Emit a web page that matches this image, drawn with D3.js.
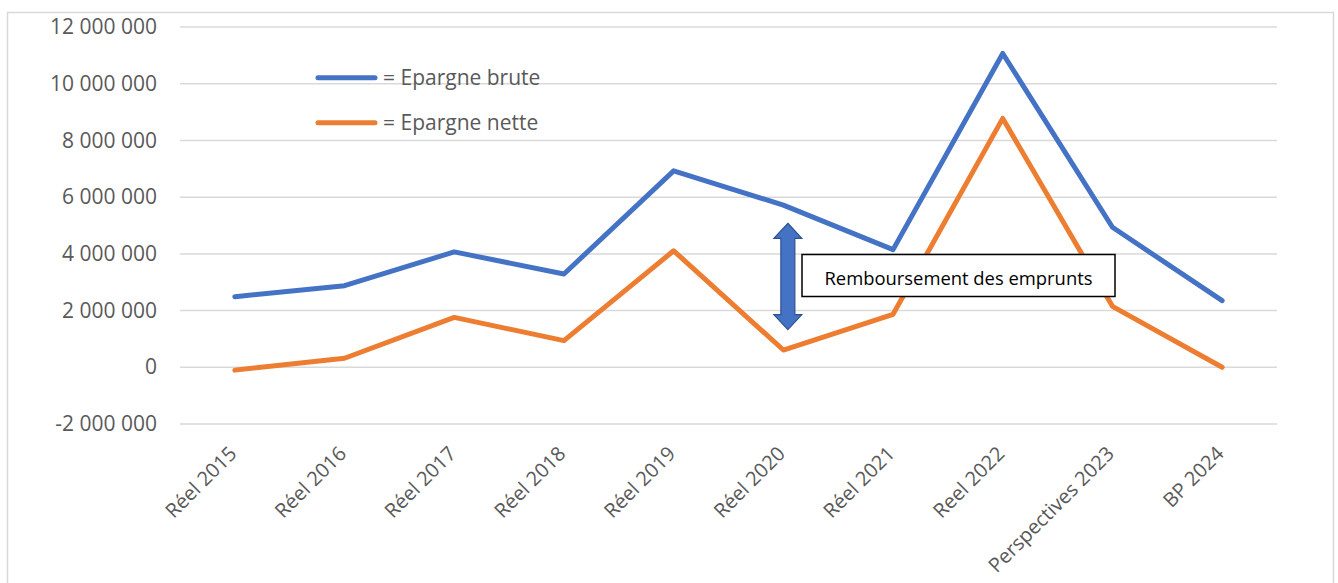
<!DOCTYPE html>
<html>
<head>
<meta charset="utf-8">
<script src="https://cdn.jsdelivr.net/npm/d3@7"></script>
<style>
  html, body { margin: 0; padding: 0; background: #fff; }
  svg { display: block; font-family: "Open Sans", sans-serif; }
</style>
</head>
<body>
<svg id="chart" width="1338" height="583"></svg>
<script>
//Data
var categories = ["Réel 2015", "Réel 2016", "Réel 2017", "Réel 2018", "Réel 2019",
  "Réel 2020", "Réel 2021", "Reel 2022", "Perspectives 2023", "BP 2024"];
var epargneBrute = [2490000, 2880000, 4070000, 3290000, 6930000,
  5720000, 4150000, 11070000, 4940000, 2350000];
var epargneNette = [-100000, 320000, 1760000, 940000, 4110000,
  610000, 1870000, 8780000, 2150000, 0];
var yTicks = [-2000000, 0, 2000000, 4000000, 6000000, 8000000, 10000000, 12000000];
var seriesNames = ["= Epargne brute", "= Epargne nette"];
var annotationText = "Remboursement des emprunts";

var svg = d3.select("#chart"),
  width = +svg.attr("width"),
  height = +svg.attr("height");

var blue = "#4472C4",
  orange = "#ED7D31",
  grey = "#595959";

// chart area border
svg
  .append("rect")
  .attr("x", 7.5)
  .attr("y", 12.5)
  .attr("width", 1326)
  .attr("height", 600)
  .attr("fill", "white")
  .attr("stroke", "#D9D9D9")
  .attr("stroke-width", 1.5);

var x = d3.scalePoint().domain(categories).range([180, 1277]).padding(0.5);
var y = d3.scaleLinear().domain([-2000000, 12000000]).range([424, 27.1]);

// "12 000 000" style, plain hyphen for negatives
var fmt = (d) => d3.format(",")(d).replace(/,/g, " ").replace("\u2212", "-");

// gridlines
svg
  .append("g")
  .selectAll("line")
  .data(yTicks)
  .join("line")
  .attr("x1", 180)
  .attr("x2", 1277)
  .attr("y1", (d) => y(d))
  .attr("y2", (d) => y(d))
  .attr("stroke", "#D9D9D9")
  .attr("stroke-width", 1.5);

// y labels
svg
  .append("g")
  .selectAll("text")
  .data(yTicks)
  .join("text")
  .attr("x", 157)
  .attr("y", (d) => y(d))
  .attr("dy", "0.34em")
  .attr("text-anchor", "end")
  .style("font-size", "21px")
  .style("fill", grey)
  .text(fmt);

// x labels
svg
  .append("g")
  .selectAll("text")
  .data(categories)
  .join("text")
  .attr("transform", (d) => "translate(" + (x(d) + 3) + ",455) rotate(-45)")
  .attr("text-anchor", "end")
  .style("font-size", "20px")
  .style("fill", grey)
  .text((d) => d);

var line = d3
  .line()
  .x((d, i) => x(categories[i]))
  .y((d) => y(d));

[epargneBrute, epargneNette].forEach((s, i) => {
  svg
    .append("path")
    .datum(s)
    .attr("d", line)
    .attr("fill", "none")
    .attr("stroke", i === 0 ? blue : orange)
    .attr("stroke-width", 5)
    .attr("stroke-linejoin", "round")
    .attr("stroke-linecap", "round");
});

// legend
var legend = svg
  .append("g")
  .selectAll("g")
  .data(seriesNames)
  .join("g")
  .attr("transform", (d, i) => "translate(318," + (77.7 + i * 45) + ")");
legend
  .append("line")
  .attr("x1", 0)
  .attr("x2", 57)
  .attr("stroke", (d, i) => (i === 0 ? blue : orange))
  .attr("stroke-width", 5)
  .attr("stroke-linecap", "round");
legend
  .append("text")
  .attr("x", 65)
  .attr("dy", "0.35em")
  .style("font-size", "21px")
  .style("fill", grey)
  .text((d) => d);

// double arrow between the two series
var ax = x(categories[5]) + 4.5,
  aTop = y(5080000),
  aBot = y(1330000),
  head = 15,
  hw = 14,
  sw = 7;
svg
  .append("path")
  .attr(
    "d",
    d3.line()([
      [ax, aTop],
      [ax + hw, aTop + head],
      [ax + sw, aTop + head],
      [ax + sw, aBot - head],
      [ax + hw, aBot - head],
      [ax, aBot],
      [ax - hw, aBot - head],
      [ax - sw, aBot - head],
      [ax - sw, aTop + head],
      [ax - hw, aTop + head],
    ]) + "Z"
  )
  .attr("fill", blue)
  .attr("stroke", "#2F528F")
  .attr("stroke-width", 1.2);

// annotation box
var box = svg.append("g");
box
  .append("rect")
  .attr("x", 802)
  .attr("y", 254.5)
  .attr("width", 313)
  .attr("height", 42)
  .attr("fill", "white")
  .attr("stroke", "black")
  .attr("stroke-width", 1.5);
box
  .append("text")
  .attr("x", 958.5)
  .attr("y", 285)
  .attr("text-anchor", "middle")
  .style("font-size", "18.4px")
  .style("fill", "black")
  .text(annotationText);
</script>
</body>
</html>
